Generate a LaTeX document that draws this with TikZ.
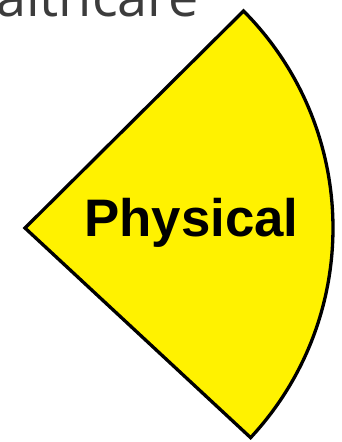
\documentclass[tikz,border=0pt]{standalone}
\usepackage{fontspec}
\setmainfont{Liberation Sans}
\newfontfamily\titlefont{Open Sans}
\definecolor{wedgeyellow}{HTML}{FFF200}
\definecolor{titlegray}{HTML}{3C3C3C}
\begin{document}
\begin{tikzpicture}[x=1pt,y=1pt,
  wedge/.style={fill=wedgeyellow,draw=black,line width=3.3pt,line join=miter},
  labeltext/.style={font=\fontsize{52.8}{60}\selectfont\bfseries,inner sep=0pt,anchor=base west},
  titletext/.style={font=\titlefont\fontsize{54}{60}\selectfont,text=titlegray,inner sep=0pt,anchor=base west}]
\useasboundingbox (0,0) rectangle (342,442);
\clip (0,0) rectangle (342,442);
\coordinate (apex) at (25,214);
\draw[wedge] (apex) -- ++(44.8:308) arc[start angle=44.8,end angle=-42.9,radius=308] -- cycle;
\node[labeltext] (phys) at (84,205) {Physical};
\node[titletext] (title) at (-4,425) {althcare};
\end{tikzpicture}
\end{document}
